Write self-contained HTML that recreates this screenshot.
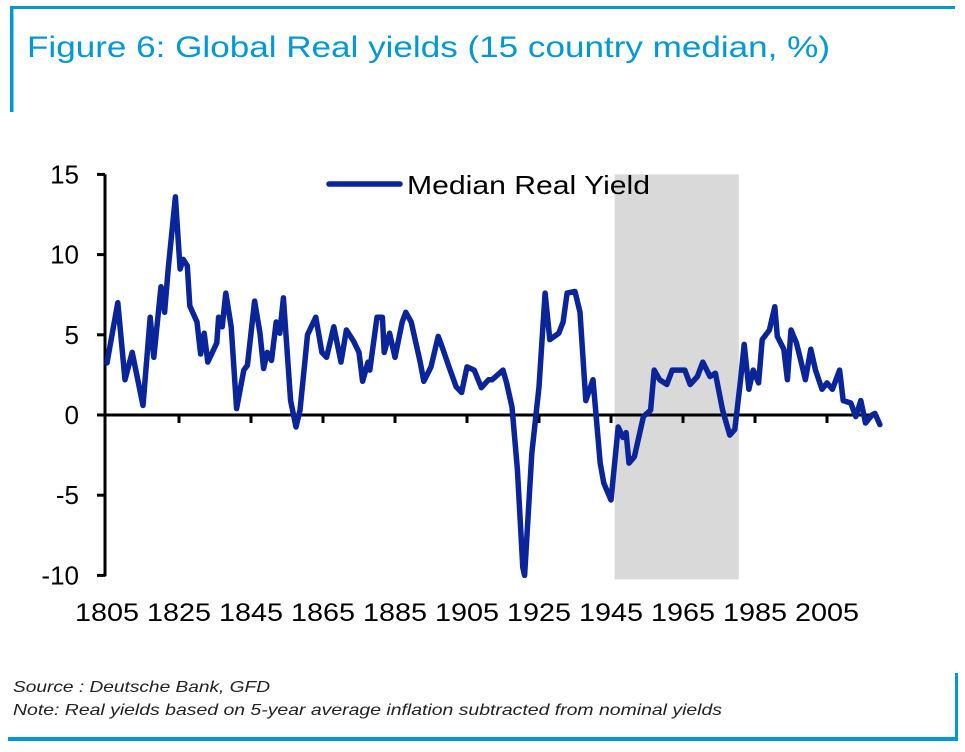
<!DOCTYPE html>
<html><head><meta charset="utf-8">
<style>
html,body{margin:0;padding:0;background:#fff;}
svg{display:block;font-family:"Liberation Sans",sans-serif;}
</style></head>
<body>
<svg width="965" height="752" viewBox="0 0 965 752">
  <rect x="10" y="6" width="945" height="3" fill="#0098d4"/>
  <rect x="10" y="6" width="3.5" height="106" fill="#0098d4"/>
  <text x="27" y="57" font-size="30" fill="#0098d4" textLength="803" lengthAdjust="spacingAndGlyphs">Figure 6: Global Real yields (15 country median, %)</text>

  <rect id="shade" fill="#d9d9d9"/>
  <g id="yaxis"></g>
  <g id="xaxis"></g>
  <path id="series" fill="none" stroke="#0a249a" stroke-width="5.5" stroke-linejoin="round" stroke-linecap="round"/>

  <g>
    <line x1="329" y1="184" x2="400" y2="184" stroke="#0a249a" stroke-width="5.5" stroke-linecap="round"/>
    <text x="407" y="194" font-size="26" fill="#000" textLength="243" lengthAdjust="spacingAndGlyphs">Median Real Yield</text>
  </g>

  <text x="13" y="692" font-size="16" font-style="italic" fill="#222" textLength="257" lengthAdjust="spacingAndGlyphs">Source : Deutsche Bank, GFD</text>
  <text x="13" y="715" font-size="16" font-style="italic" fill="#222" textLength="709" lengthAdjust="spacingAndGlyphs">Note: Real yields based on 5-year average inflation subtracted from nominal yields</text>
  <rect x="955" y="673" width="3" height="68" fill="#0098d4"/>
  <rect x="8" y="737" width="950" height="4" fill="#0098d4"/>
</svg>
<script>
const years = [1805,1808,1810,1812,1815,1817,1818,1820,1821,1822,1824,1825.3,1826.2,1827.3,1828,1830,1831,1832,1833,1835.5,1836,1837,1838,1839.5,1841,1843,1844,1846,1847.5,1848.5,1849.5,1850.7,1852,1853,1854,1856,1857.5,1858.6,1860,1860.7,1863,1864.7,1866,1868,1870,1871.5,1873.5,1875,1876,1877.5,1878,1880,1881.5,1882,1883.5,1885,1887,1888,1889.5,1892,1893,1895,1897,1898,1900,1902,1903.5,1905,1907,1909,1911,1912,1915,1916,1917.5,1919,1920.5,1921,1923,1925,1926.7,1928,1930.5,1931.7,1932.8,1935,1936.4,1938,1940,1942,1943,1945,1947,1948.3,1949.2,1950,1951.5,1954,1956,1957,1958.5,1960.5,1962,1964,1965.5,1967,1969,1970.5,1972.5,1974,1976,1978,1979.4,1981,1982,1983.3,1984.5,1986,1987,1989,1990.5,1991.2,1993,1994,1995,1996.5,1997.5,1999,2000.5,2001.8,2003.6,2005,2006.5,2008.5,2009.5,2011.6,2013,2014.4,2015.7,2017.5,2018.3,2019.7];
const yields = [3.25,7.0,2.2,3.9,0.6,6.1,3.6,8.0,6.4,9.1,13.6,9.1,9.7,9.3,6.8,5.8,3.8,5.1,3.3,4.5,6.1,5.5,7.6,5.5,0.4,2.8,3.1,7.1,5.1,2.9,3.9,3.4,5.8,5.1,7.3,0.9,-0.75,0.3,3.4,5.0,6.1,3.9,3.6,5.5,3.3,5.3,4.6,3.9,2.1,3.3,2.8,6.1,6.1,3.9,5.1,3.6,5.8,6.4,5.8,3.3,2.1,3.0,4.9,4.3,3.0,1.75,1.4,3.0,2.8,1.7,2.2,2.2,2.8,2.0,0.5,-3.4,-9.5,-10,-2.4,1.75,7.6,4.7,5.1,5.8,7.6,7.7,6.4,0.9,2.2,-3.0,-4.25,-5.3,-0.75,-1.4,-1.1,-3.0,-2.6,-0.1,0.3,2.8,2.2,1.9,2.8,2.8,2.8,1.9,2.4,3.3,2.4,2.6,0.3,-1.25,-0.9,2.2,4.4,1.6,2.8,2.0,4.7,5.3,6.75,4.9,4.1,2.2,5.3,4.5,3.6,2.2,4.1,2.8,1.6,2.0,1.6,2.8,0.9,0.75,-0.1,0.9,-0.5,0,0.1,-0.6];
const yTicks = [15,10,5,0,-5,-10];
const xTickLabels = [1805,1825,1845,1865,1885,1905,1925,1945,1965,1985,2005];
const shadedYears = [1946,1980.5];

const NS = "http://www.w3.org/2000/svg";
function xs(yr){ return 107 + (yr - 1805) * 3.6; }
function ys(v){ return 415 - v * 16.04; }

const shade = document.getElementById('shade');
shade.setAttribute('x', xs(shadedYears[0]));
shade.setAttribute('width', xs(shadedYears[1]) - xs(shadedYears[0]));
shade.setAttribute('y', ys(15));
shade.setAttribute('height', ys(-10.25) - ys(15));

const ya = document.getElementById('yaxis');
const yl = document.createElementNS(NS,'line');


yl.setAttribute('x1',105);yl.setAttribute('x2',105);
yl.setAttribute('y1',ys(15));yl.setAttribute('y2',ys(-10)+1);
yl.setAttribute('stroke','#000');yl.setAttribute('stroke-width',3);
ya.appendChild(yl);
yTicks.forEach(t=>{
  const tk=document.createElementNS(NS,'line');
  
  
  tk.setAttribute('x1',97);tk.setAttribute('x2',105);
  tk.setAttribute('y1',ys(t));tk.setAttribute('y2',ys(t));
  tk.setAttribute('stroke','#000');tk.setAttribute('stroke-width',3);
  ya.appendChild(tk);
  const tx=document.createElementNS(NS,'text');
  
  
  tx.setAttribute('x',79);tx.setAttribute('y',ys(t)+9);
  tx.setAttribute('text-anchor','end');tx.setAttribute('font-size','26');
  tx.textContent=t;
  ya.appendChild(tx);
});

const xa = document.getElementById('xaxis');
const xl = document.createElementNS(NS,'line');


xl.setAttribute('x1',104);xl.setAttribute('x2',xs(2019));
xl.setAttribute('y1',ys(0));xl.setAttribute('y2',ys(0));
xl.setAttribute('stroke','#000');xl.setAttribute('stroke-width',3);
xa.appendChild(xl);
xTickLabels.forEach(t=>{
  if(t>1805){
    const tk=document.createElementNS(NS,'line');
    
    
    tk.setAttribute('x1',xs(t));tk.setAttribute('x2',xs(t));
    tk.setAttribute('y1',ys(0));tk.setAttribute('y2',ys(0)+8);
    tk.setAttribute('stroke','#000');tk.setAttribute('stroke-width',3);
    xa.appendChild(tk);
  }
  const tx=document.createElementNS(NS,'text');
  
  
  tx.setAttribute('x',xs(t)-32);tx.setAttribute('y',621);
  tx.setAttribute('font-size','25');
  tx.setAttribute('textLength','64');
  tx.setAttribute('lengthAdjust','spacingAndGlyphs');
  tx.textContent=t;
  xa.appendChild(tx);
});

let d='';
years.forEach((yr,i)=>{ d += (i?'L':'M') + xs(yr).toFixed(1) + ' ' + ys(yields[i]).toFixed(1) + ' '; });
document.getElementById('series').setAttribute('d', d);
</script>
</body></html>
